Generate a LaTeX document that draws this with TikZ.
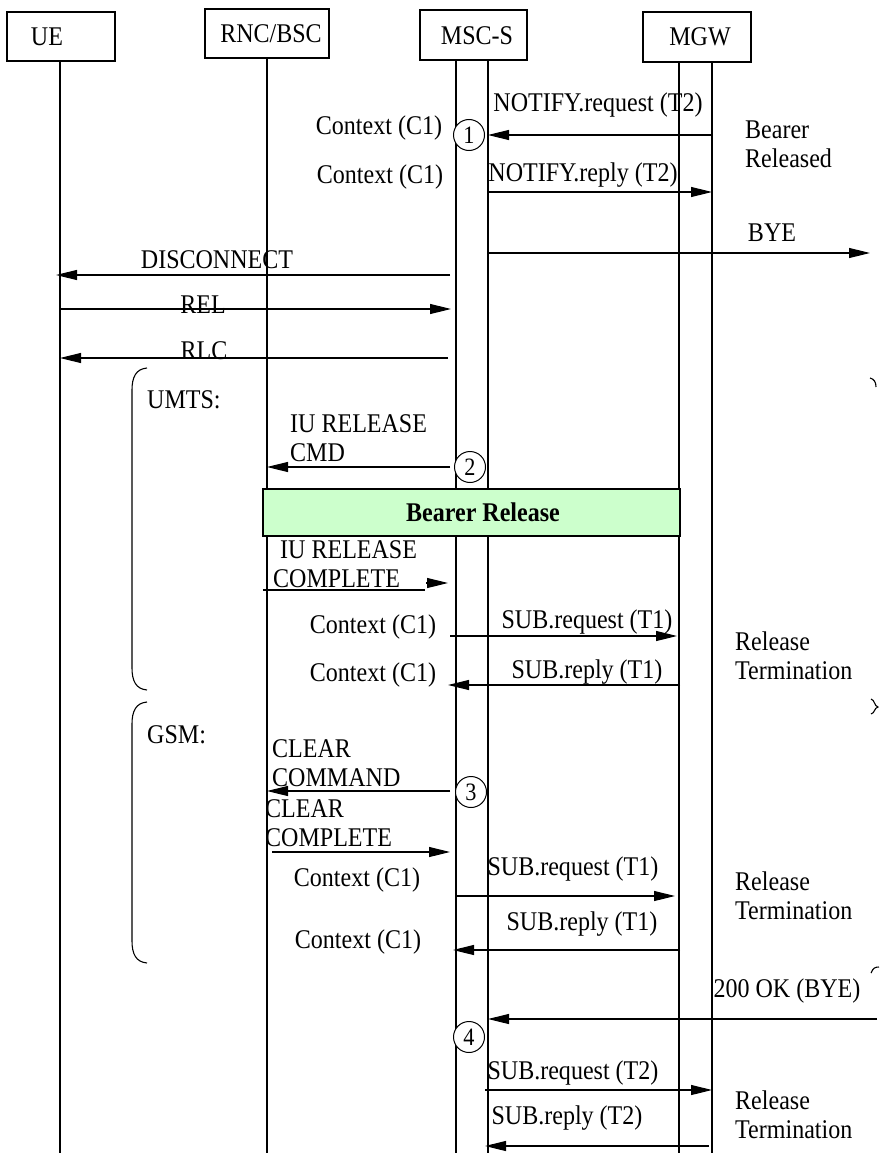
\documentclass[tikz,border=0pt]{standalone}
\usepackage{fontspec}
\setmainfont[FakeStretch=0.89]{Liberation Serif}
\usetikzlibrary{arrows.meta}
\definecolor{bearer}{HTML}{CCFFCC}
\newcommand{\msgline}[4]{\coordinate (#1s) at (#2,#4); \coordinate (#1e) at (#3,#4); \draw[msg] (#1s) -- (#1e);}
\tikzset{
 lbl/.style={inner sep=0pt, font=\fontsize{27}{29}\selectfont},
 hdr/.style={draw, line width=1.2pt, inner sep=0pt},
 life/.style={line width=1.1pt},
 msg/.style={line width=1.1pt, -{Triangle[length=21pt,width=10pt]}},
 num/.style={draw, circle, fill=white, line width=1pt, minimum size=31pt, inner sep=0pt, font=\fontsize{25}{25}\selectfont},
 brk/.style={line width=1.1pt},
}
\begin{document}
\begin{tikzpicture}[x=1pt,y=-1pt]
\useasboundingbox (0,0) rectangle (881,1153);
% headers
\node[hdr, minimum width=108pt, minimum height=49pt] (ue) at (61,36.5) {};
\node[lbl] (uet) at (47,37) {UE};
\node[hdr, minimum width=124pt, minimum height=49pt] (rnc) at (267,33.5) {};
\node[lbl] (rnct) at (271,34) {RNC/BSC};
\node[hdr, minimum width=107pt, minimum height=50pt] (msc) at (473.5,35) {};
\node[lbl] (msct) at (477,36) {MSC-S};
\node[hdr, minimum width=108pt, minimum height=50pt] (mgw) at (697,37) {};
\node[lbl] (mgwt) at (700,37) {MGW};
% lifelines
\coordinate (ueE) at (60,1153);
\coordinate (rncE) at (267,1153);
\coordinate (mscA) at (456,1153);
\coordinate (mscB) at (488,1153);
\coordinate (mgwA) at (679,1153);
\coordinate (mgwB) at (712,1153);
\draw[life] (ueE |- ue.south) -- (ueE);
\draw[life] (rncE |- rnc.south) -- (rncE);
\draw[life] (mscA |- msc.south) -- (mscA);
\draw[life] (mscB |- msc.south) -- (mscB);
\draw[life] (mgwA |- mgw.south) -- (mgwA);
\draw[life] (mgwB |- mgw.south) -- (mgwB);
% messages
\msgline{m1}{712}{488}{135}
\msgline{m2}{488}{712}{192}
\msgline{m3}{488}{870}{253}
\msgline{m4}{450}{56}{275}
\msgline{m5}{60}{451}{309}
\msgline{m6}{448}{60}{358}
\msgline{m7}{450}{267}{467}
\coordinate (m8s) at (263,590); \coordinate (m8m) at (425,590);
\draw[life] (m8s) -- (m8m);
\coordinate (m8h) at (426,583); \coordinate (m8e) at (448,583);
\draw[msg] (m8h) -- (m8e);
\msgline{m9}{450}{677}{636}
\msgline{m10}{680}{448}{685}
\msgline{m11}{450}{267}{791}
\msgline{m12}{272}{450}{852}
\msgline{m13}{455}{675}{896}
\msgline{m14}{680}{453}{950}
\msgline{m15}{877}{488}{1019}
\msgline{m16}{485}{712}{1090}
\msgline{m17}{709}{485}{1146}
% bearer release box
\node[draw, fill=bearer, line width=1.1pt, minimum width=417pt, minimum height=47pt, inner sep=0pt] (br) at (471.5,512.5) {};
\node[lbl, font=\fontsize{27}{29}\selectfont\bfseries] (brt) at (483,512) {Bearer Release};
% numbered circles
\node[num] (n1) at (469,135) {1};
\node[num] (n2) at (470,467) {2};
\node[num] (n3) at (471,792) {3};
\node[num] (n4) at (469,1037) {4};
% labels
\node[lbl] (c1) at (379,128) {Context (C1)};
\node[lbl] (c2) at (380,177) {Context (C1)};
\node[lbl] (t1) at (598,105) {NOTIFY.request (T2)};
\node[lbl, align=left, anchor=west] (bb) at (745,144) {Bearer\\Released};
\node[lbl] (t2) at (583,175) {NOTIFY.reply (T2)};
\node[lbl] (t3) at (772,233) {BYE};
\node[lbl] (t4) at (217,260) {DISCONNECT};
\node[lbl] (t5) at (203,305) {REL};
\node[lbl] (t6) at (204,351) {RLC};
\node[lbl, anchor=west] (umts) at (147,400) {UMTS:};
\node[lbl, align=left, anchor=west] (t7) at (290,438) {IU RELEASE\\CMD};
\node[lbl, align=left, anchor=west] (t8) at (273,564.5) {\hspace{7pt}IU RELEASE\\COMPLETE};
\node[lbl] (c3) at (373,627) {Context (C1)};
\node[lbl] (c4) at (373,675) {Context (C1)};
\node[lbl] (t9) at (587,622) {SUB.request (T1)};
\node[lbl] (t10) at (587,672) {SUB.reply (T1)};
\node[lbl, align=left, anchor=west] (rt1) at (735,656) {Release\\Termination};
\node[lbl, anchor=west] (gsm) at (147,735) {GSM:};
\node[lbl, align=left, anchor=west] (t11) at (272,763) {CLEAR\\COMMAND};
\node[lbl, align=left, anchor=west] (t12) at (265,823.5) {CLEAR\\COMPLETE};
\node[lbl] (c5) at (357,880) {Context (C1)};
\node[lbl] (c6) at (358,942) {Context (C1)};
\node[lbl] (t13) at (573,869) {SUB.request (T1)};
\node[lbl] (t14) at (582,924) {SUB.reply (T1)};
\node[lbl, align=left, anchor=west] (rt2) at (735,896) {Release\\Termination};
\node[lbl] (t15) at (787,991) {200 OK (BYE)};
\node[lbl] (t16) at (573,1073) {SUB.request (T2)};
\node[lbl] (t17) at (567,1118) {SUB.reply (T2)};
\node[lbl, align=left, anchor=west] (rt3) at (735,1114.5) {Release\\Termination};
% brackets
\draw[brk] (147,368) .. controls (136,369) and (132,377) .. (132,390) -- (132,668) .. controls (132,681) and (136,689) .. (147,690);
\draw[brk] (147,702) .. controls (136,703) and (132,711) .. (132,724) -- (132,941) .. controls (132,954) and (136,962) .. (147,963);
% right edge fragments
\draw[brk] (870,378) .. controls (874,379) and (876,382) .. (876,387);
\draw[brk] (871,699) .. controls (875,700) and (874,706) .. (878,707) .. controls (874,708) and (875,713) .. (871,714);
\draw[brk] (871,973) .. controls (873,968) and (875,967) .. (879,967);
\end{tikzpicture}
\end{document}
